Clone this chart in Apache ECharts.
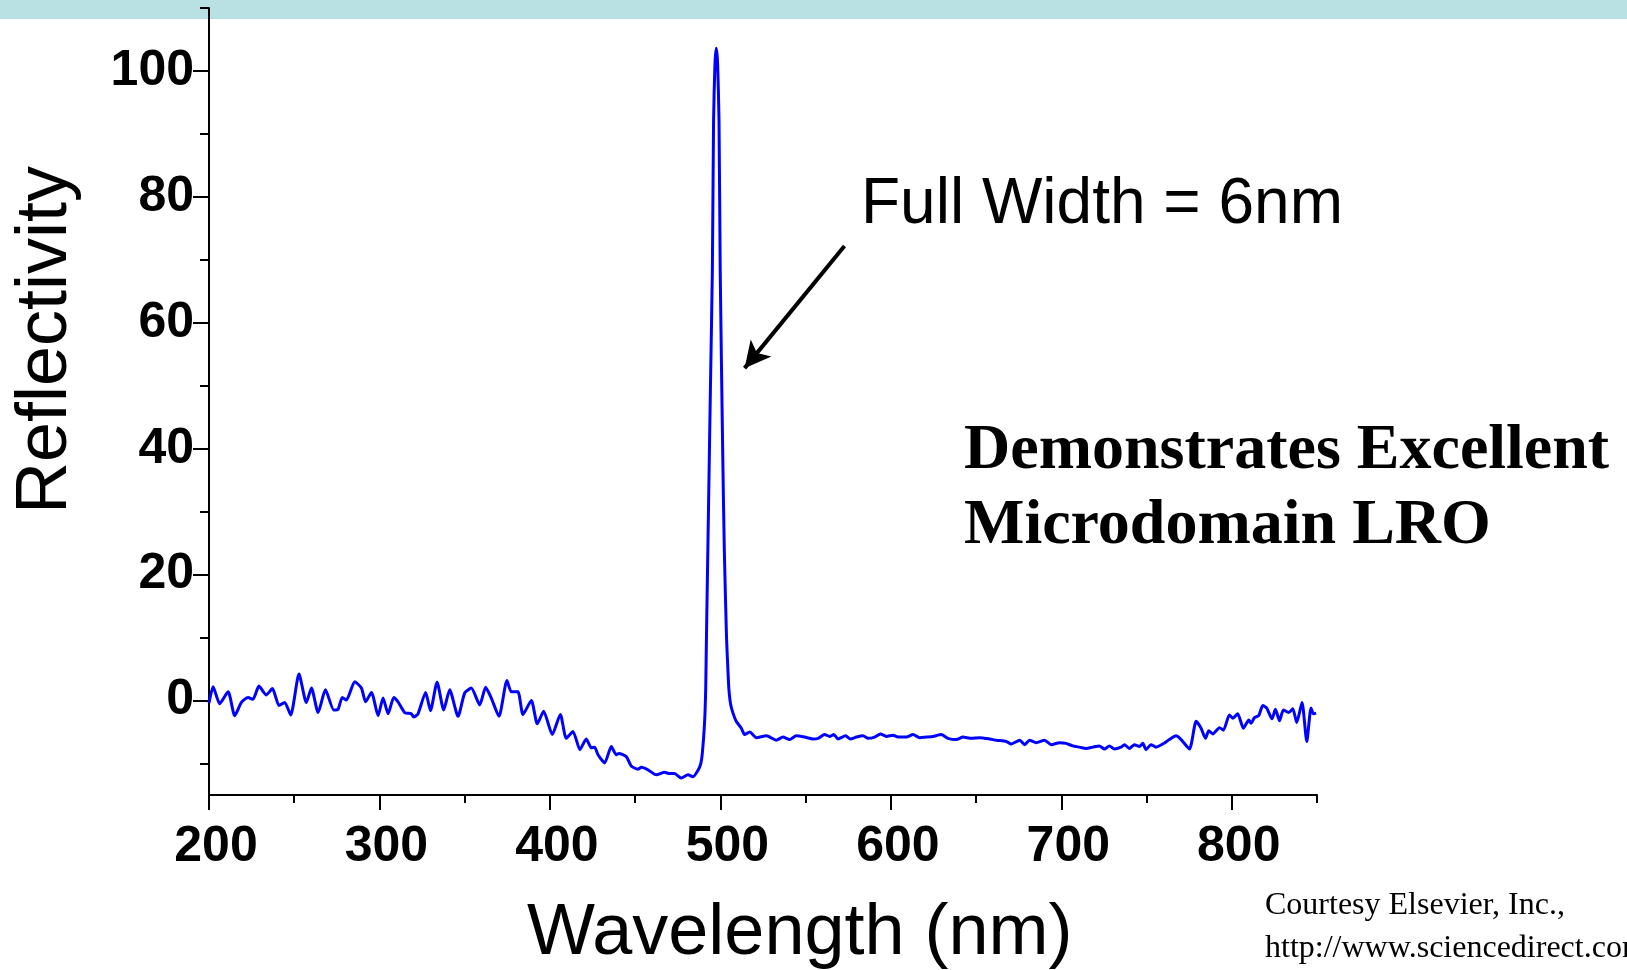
<!DOCTYPE html>
<html>
<head>
<meta charset="utf-8">
<title>Reflectivity</title>
<script src="https://cdn.jsdelivr.net/npm/echarts@6.0.0/dist/echarts.min.js"></script>
<style>
  html, body { margin: 0; padding: 0; background: #fff; }
  #main { width: 1627px; height: 970px; }
</style>
</head>
<body>
<div id="main"></div>
<script>
// wavelength (nm) and reflectivity
const wavelength = [
  200, 202.4, 206.3, 211.2, 215.1, 219.0, 222.9, 225.8, 229.3, 233.6, 237.2, 241.1, 244.4, 247.9,
  252.8, 257.1, 260.1, 264.0, 268.3, 273.2, 275.7, 278.2, 280.6, 285.5, 289.4, 291.9, 295.3, 299.2,
  302.1, 305.1, 308.4, 310.9, 314.8, 318.7, 320.1, 322.6, 327.1, 329.9, 333.8, 337.7, 341.2, 346.1,
  350.0, 353.9, 358.8, 362.3, 365.6, 370.1, 374.8, 377.3, 381.2, 384.2, 389.1, 392.6, 396.3, 401.4,
  406.1, 409.6, 413.5, 417.6, 421.3, 424.3, 426.2, 428.2, 432.1, 436.0, 438.9, 440.5, 444.8, 447.7,
  451.6, 453.6, 457.5, 462.4, 467.3, 470.2, 473.1, 477.0, 481.0, 483.9, 486.8, 488.5, 489.4, 490.7,
  491.4, 491.8, 493.0, 494.3, 495.3, 496.0, 496.8, 497.6, 498.4, 499.2, 499.9, 500.7, 501.5, 502.3,
  503.6, 504.4, 505.0, 506.0, 507.4, 509.3, 512.3, 514.2, 517.2, 521.1, 527.0, 532.8, 536.7, 540.6,
  544.5, 549.4, 554.3, 557.3, 561.2, 564.1, 566.5, 569.0, 573.5, 576.2, 579.8, 583.7, 586.6, 590.5,
  593.9, 597.4, 601.3, 604.2, 609.1, 613.0, 616.9, 620.8, 624.7, 629.6, 633.5, 638.4, 642.3, 647.2,
  652.1, 658.0, 661.9, 667.7, 670.7, 675.6, 678.5, 681.4, 685.3, 690.2, 694.1, 698.9, 702.8, 706.7,
  710.6, 714.5, 718.4, 722.3, 725.3, 728.2, 731.1, 735.0, 737.0, 739.9, 742.9, 745.8, 747.8, 749.7,
  752.6, 755.6, 759.5, 763.4, 767.3, 770.3, 775.2, 779.1, 782.0, 784.6, 786.5, 788.9, 792.8, 795.1,
  798.6, 800.6, 803.5, 806.8, 810.0, 811.3, 813.3, 815.8, 818.2, 820.5, 823.6, 825.6, 828.0, 830.3,
  833.4, 835.8, 838.1, 841.2, 844.0, 846.5, 847.9, 849.5
];
const reflectivity = [
  -0.4, 2.2, -0.5, 1.4, -2.4, -0.3, 0.5, 0.2, 2.3, 0.9, 1.9, -0.8, -0.3, -2.3,
  4.2, -0.3, 2.0, -1.9, 1.7, -1.5, -1.4, 0.5, 0.1, 3.0, 2.0, -0.2, 1.3, -2.4,
  0.4, -2.1, 0.5, -0.2, -1.9, -2.1, -2.6, -2.1, 1.3, -1.6, 2.9, -1.5, 1.7, -2.5,
  1.2, 2.0, -0.7, 2.1, 0.4, -2.5, 3.2, 1.4, 1.4, -2.2, 0.0, -3.7, -1.7, -5.4,
  -2.2, -6.0, -4.9, -7.8, -6.1, -7.5, -7.4, -8.6, -9.9, -7.3, -8.6, -8.4, -8.9, -10.4,
  -10.9, -10.6, -11.0, -11.8, -11.4, -11.6, -11.6, -12.3, -11.8, -12.1, -11.1, -10.0, -8.4, -3.6,
  2.0, 9.6, 30, 52, 68.4, 92, 101, 103.6, 101, 92, 68.4, 52, 37, 24,
  10, 5, 1.8, -0.6, -2.0, -3.3, -4.4, -5.4, -5.0, -5.9, -5.6, -6.3, -5.8, -6.2,
  -5.6, -5.8, -6.1, -6.0, -5.4, -5.7, -5.4, -6.1, -5.6, -6.1, -5.8, -5.6, -6.0, -5.8,
  -5.3, -5.7, -5.5, -5.8, -5.8, -5.4, -5.9, -5.8, -5.7, -5.4, -6.0, -6.2, -5.8, -6.0,
  -5.9, -6.1, -6.3, -6.5, -6.9, -6.3, -7.0, -6.3, -6.7, -6.3, -7.0, -6.7, -6.8, -7.2,
  -7.4, -7.6, -7.4, -7.2, -7.7, -7.2, -7.7, -7.4, -7.0, -7.6, -7.0, -7.3, -6.8, -7.8,
  -7.0, -7.4, -6.9, -6.2, -5.6, -6.2, -7.7, -3.3, -4.4, -6.0, -4.8, -5.3, -4.3, -4.7,
  -2.3, -2.8, -2.1, -4.4, -3.1, -3.6, -2.7, -2.4, -0.8, -1.2, -2.9, -1.4, -3.2, -1.5,
  -1.9, -1.3, -3.5, -0.3, -6.5, -1.2, -2.1, -2.0
];

// axis ticks
const xMajorTicks = [200, 300, 400, 500, 600, 700, 800];
const xMinorTicks = [250, 350, 450, 550, 650, 750, 850];
const yMajorTicks = [0, 20, 40, 60, 80, 100];
const yMinorTicks = [-10, 10, 30, 50, 70, 90, 110];

const sans = '"Liberation Sans", Arial, sans-serif';
const serif = '"Liberation Serif", "Times New Roman", serif';

const chart = echarts.init(document.getElementById('main'));

const axisLine = { show: true, onZero: false, lineStyle: { color: '#000', width: 2 } };
const tickStyle = { color: '#000', width: 2 };

chart.setOption({
    animation: false,
    backgroundColor: '#fff',
    grid: {
        left: 209, right: 310, top: 8, bottom: 175,
        containLabel: false,
        outerBoundsMode: 'none'
    },
    xAxis: [
        {
            type: 'value', min: 200, max: 850,
            axisLine: axisLine,
            axisTick: { show: true, customValues: xMajorTicks, length: 15, lineStyle: tickStyle },
            axisLabel: {
                customValues: xMajorTicks, color: '#000', fontSize: 50, fontWeight: 'bold',
                fontFamily: sans, margin: 27, padding: [0, 0, 0, 14]
            },
            splitLine: { show: false }
        },
        {
            type: 'value', min: 200, max: 850, position: 'bottom',
            axisLine: { show: false, onZero: false },
            axisTick: { show: true, customValues: xMinorTicks, length: 8, lineStyle: tickStyle },
            axisLabel: { show: false },
            splitLine: { show: false }
        }
    ],
    yAxis: [
        {
            type: 'value', min: -15, max: 110, position: 'left',
            axisLine: axisLine,
            axisTick: { show: true, customValues: yMajorTicks, length: 16, lineStyle: tickStyle },
            axisLabel: {
                customValues: yMajorTicks, color: '#000', fontSize: 50, fontWeight: 'bold',
                fontFamily: sans, margin: 15, padding: [14, 0, 0, 0]
            },
            splitLine: { show: false }
        },
        {
            type: 'value', min: -15, max: 110, position: 'left',
            axisLine: { show: false, onZero: false },
            axisTick: { show: true, customValues: yMinorTicks, length: 9, lineStyle: tickStyle },
            axisLabel: { show: false },
            splitLine: { show: false }
        }
    ],
    series: [{
        name: 'Reflectivity',
        type: 'line',
        xAxisIndex: 0,
        yAxisIndex: 0,
        data: wavelength.map(function (w, i) { return [w, reflectivity[i]]; }),
        showSymbol: false,
        smooth: 0.2,
        lineStyle: { color: '#0000ff', width: 3 },
        markLine: {
            silent: true,
            symbol: ['none', 'arrow'],
            symbolSize: [20, 26],
            label: { show: false },
            lineStyle: { color: '#000', width: 4, type: 'solid' },
            data: [[{ coord: [572.8, 72.2] }, { coord: [514.2, 52.8] }]]
        }
    }],
    graphic: [
        { type: 'rect', z: -10, shape: { x: 0, y: 0, width: 1627, height: 19 }, style: { fill: '#b9e0e3' } },
        {
            type: 'text', x: 46, y: 340, rotation: Math.PI / 2,
            style: { text: 'Reflectivity', font: '72px ' + sans, fill: '#000', textAlign: 'center', textVerticalAlign: 'middle' }
        },
        {
            type: 'text', x: 527, y: 934,
            style: { text: 'Wavelength (nm)', font: '72px ' + sans, fill: '#000', textAlign: 'left', textVerticalAlign: 'middle' }
        },
        {
            type: 'text', x: 861, y: 205,
            style: { text: 'Full Width = 6nm', font: '64px ' + sans, fill: '#000', textAlign: 'left', textVerticalAlign: 'middle' }
        },
        {
            type: 'text', x: 964, y: 451,
            style: { text: 'Demonstrates Excellent', font: 'bold 64px ' + serif, fill: '#000', textAlign: 'left', textVerticalAlign: 'middle' }
        },
        {
            type: 'text', x: 964, y: 526,
            style: { text: 'Microdomain LRO', font: 'bold 64px ' + serif, fill: '#000', textAlign: 'left', textVerticalAlign: 'middle' }
        },
        {
            type: 'text', x: 1265, y: 906,
            style: { text: 'Courtesy Elsevier, Inc.,', font: '32px ' + serif, fill: '#000', textAlign: 'left', textVerticalAlign: 'middle' }
        },
        {
            type: 'text', x: 1265, y: 949,
            style: { text: 'http://www.sciencedirect.com', font: '32px ' + serif, fill: '#000', textAlign: 'left', textVerticalAlign: 'middle' }
        }
    ]
});
</script>
</body>
</html>
